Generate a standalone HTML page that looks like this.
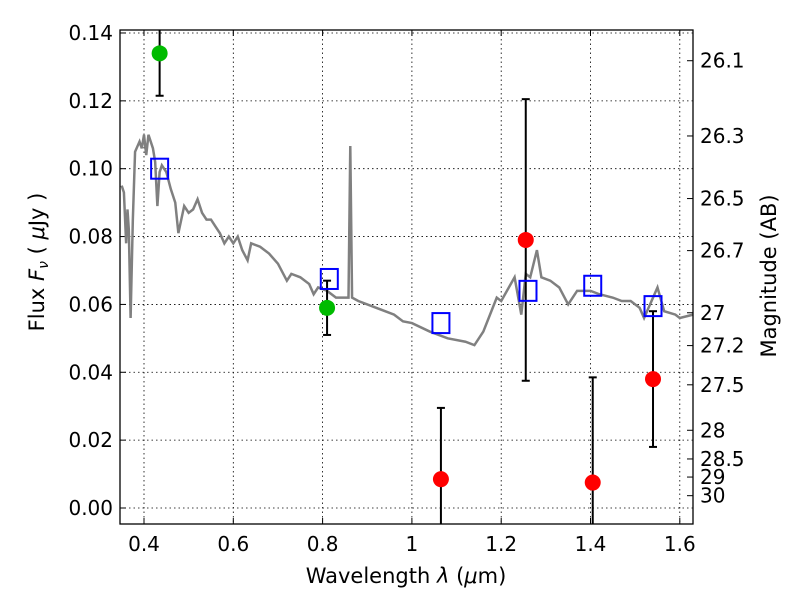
<!DOCTYPE html>
<html><head><meta charset="utf-8"><style>
html,body{margin:0;padding:0;background:#fff;overflow:hidden;width:800px;height:600px}
svg{display:block}
svg text{font-family:"DejaVu Sans","Liberation Sans",sans-serif;font-size:20px;fill:#000}
</style></head><body>
<svg id="c" width="800" height="600">
<text x="406" y="583" text-anchor="middle" style="font-size:21px">Wavelength  <tspan font-style="italic">λ</tspan> (<tspan font-style="italic">μ</tspan>m)</text>
<text transform="translate(44,262) rotate(-90)" text-anchor="middle" style="font-size:21px">Flux  <tspan font-style="italic">F</tspan><tspan font-style="italic" font-size="14" dy="4">ν</tspan><tspan dy="-4">  ( </tspan><tspan font-style="italic">μ</tspan>Jy )</text>
<text transform="translate(776,276) rotate(-90)" text-anchor="middle" style="font-size:21px">Magnitude (AB)</text>
</svg>
<script>
const specWl=[0.35,0.355,0.36,0.363,0.366,0.37,0.375,0.38,0.39,0.395,0.40,0.405,0.41,0.42,0.425,0.43,0.435,0.44,0.45,0.46,0.47,0.477,0.49,0.50,0.51,0.52,0.53,0.54,0.55,0.56,0.57,0.58,0.59,0.60,0.61,0.62,0.632,0.64,0.66,0.68,0.70,0.72,0.73,0.75,0.77,0.78,0.79,0.81,0.83,0.858,0.862,0.866,0.88,0.92,0.96,0.98,1.00,1.04,1.08,1.12,1.14,1.16,1.19,1.20,1.23,1.245,1.255,1.265,1.28,1.29,1.31,1.33,1.35,1.37,1.40,1.42,1.45,1.47,1.49,1.51,1.52,1.55,1.565,1.59,1.60,1.63];
const specFlux=[0.095,0.093,0.078,0.088,0.082,0.056,0.085,0.105,0.108,0.106,0.110,0.104,0.110,0.106,0.102,0.089,0.099,0.101,0.099,0.094,0.090,0.081,0.089,0.087,0.088,0.091,0.087,0.085,0.085,0.083,0.081,0.078,0.080,0.078,0.080,0.076,0.073,0.078,0.077,0.075,0.072,0.067,0.069,0.068,0.066,0.063,0.065,0.064,0.062,0.062,0.1067,0.062,0.061,0.059,0.057,0.055,0.0545,0.052,0.050,0.049,0.048,0.052,0.062,0.061,0.068,0.057,0.069,0.068,0.076,0.068,0.067,0.065,0.060,0.064,0.064,0.063,0.062,0.061,0.061,0.059,0.056,0.065,0.058,0.057,0.056,0.057];
const modelWl=[0.435,0.815,1.065,1.26,1.405,1.54];
const modelFlux=[0.100,0.0675,0.0545,0.064,0.0655,0.0595];
const detWl=[0.435,0.81];
const detFlux=[0.134,0.059];
const detLo=[0.1215,0.051];
const detHi=[0.150,0.067];
const limWl=[1.065,1.255,1.405,1.54];
const limFlux=[0.0085,0.079,0.0075,0.038];
const limLo=[-0.01,0.0375,-0.01,0.018];
const limHi=[0.0295,0.1205,0.0385,0.058];
const xTicks=[0.4,0.6,0.8,1.0,1.2,1.4,1.6];
const xTickLabels=["0.4","0.6","0.8","1","1.2","1.4","1.6"];
const yTicks=[0,0.02,0.04,0.06,0.08,0.10,0.12,0.14];
const yTickLabels=["0.00","0.02","0.04","0.06","0.08","0.10","0.12","0.14"];
const magTicks=[26.1,26.3,26.5,26.7,27,27.2,27.5,28,28.5,29,30];

const L=120,R=693,T=30,B=524;
const X=v=>144+(v-0.4)*446.5;
const Y=v=>508-v*3393;
const NS='http://www.w3.org/2000/svg';
const svg=document.getElementById('c');
function mk(t,a,p){const e=document.createElementNS(NS,t);for(const k in a)e.setAttribute(k,a[k]);(p||svg).appendChild(e);return e;}
const defs=mk('defs',{});const cp=mk('clipPath',{id:'cp'},defs);mk('rect',{x:L,y:T,width:R-L,height:B-T},cp);
const grid=mk('g',{});


xTicks.forEach((v,i)=>{const x=X(v);
 mk('line',{x1:x,x2:x,y1:T,y2:B,stroke:'#000','stroke-width':0.8,'stroke-dasharray':'1.5,3'},grid);
 mk('line',{x1:x,x2:x,y1:B,y2:B-6,stroke:'#000'});mk('line',{x1:x,x2:x,y1:T,y2:T+6,stroke:'#000'});
 const t=mk('text',{x:x,y:B+27,'text-anchor':'middle'});t.textContent=xTickLabels[i];
 
 });
yTicks.forEach((v,i)=>{const y=Y(v);
 mk('line',{x1:L,x2:R,y1:y,y2:y,stroke:'#000','stroke-width':0.8,'stroke-dasharray':'1.5,3'},grid);
 mk('line',{x1:L,x2:L+6,y1:y,y2:y,stroke:'#000'});
 const t=mk('text',{x:L-7,y:y+7,'text-anchor':'end'});t.textContent=yTickLabels[i];
 
 });
magTicks.forEach(m=>{const f=Math.pow(10,(23.9-m)/2.5);const y=Y(f);
 mk('line',{x1:R-6,x2:R,y1:y,y2:y,stroke:'#000'});
 const t=mk('text',{x:R+7,y:y+7});t.textContent=String(m);
 
 });
const g=mk('g',{'clip-path':'url(#cp)'});
const sp=mk('polyline',{points:specWl.map((w,i)=>X(w)+','+Y(specFlux[i])).join(' '),fill:'none',stroke:'#808080','stroke-width':2.5},g);


function eb(x,lo,hi){mk('line',{x1:x,x2:x,y1:Y(lo),y2:Y(hi),stroke:'#000','stroke-width':2},g);
 [lo,hi].forEach(v=>mk('line',{x1:x-4,x2:x+4,y1:Y(v),y2:Y(v),stroke:'#000','stroke-width':2},g));}
detWl.forEach((w,i)=>{eb(X(w),detLo[i],detHi[i]);const c=mk('circle',{cx:X(w),cy:Y(detFlux[i]),r:8,fill:'#00bb00'},g);
 
 });
limWl.forEach((w,i)=>{eb(X(w),limLo[i],limHi[i]);const c=mk('circle',{cx:X(w),cy:Y(limFlux[i]),r:8,fill:'#ff0000'},g);
 
 });
modelWl.forEach((w,i)=>{const s=mk('rect',{x:X(w)-8.5,y:Y(modelFlux[i])-10,width:17,height:20,fill:'none',stroke:'#0000ff','stroke-width':2},g);
 
 });
const fr=mk('rect',{x:L,y:T,width:R-L,height:B-T,fill:'none',stroke:'#000','stroke-width':1.3});


</script>
</body></html>
